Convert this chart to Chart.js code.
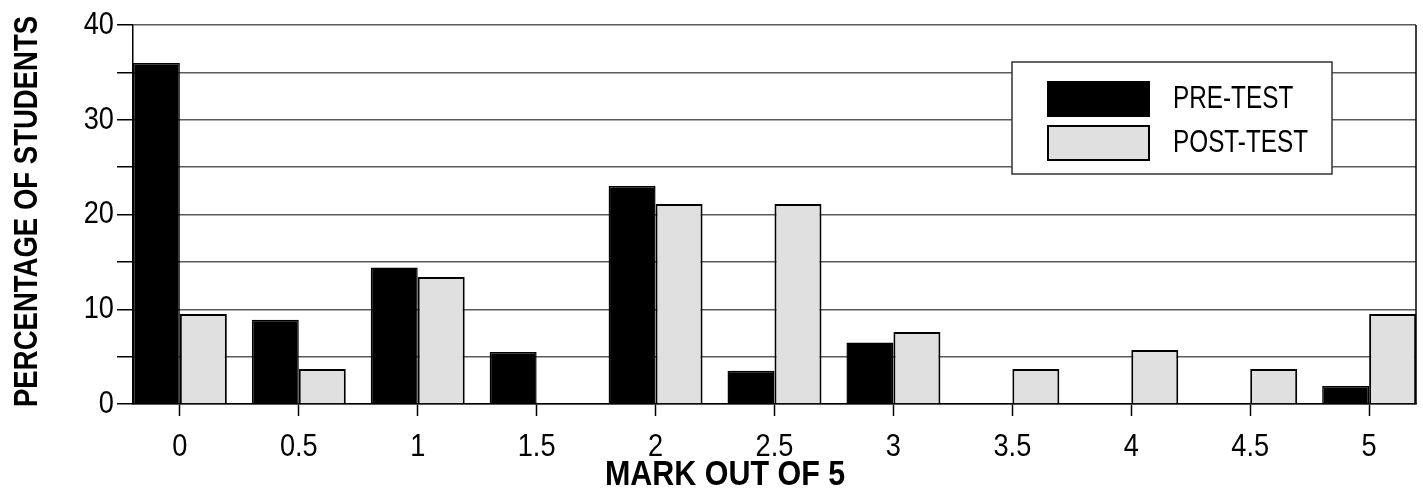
<!DOCTYPE html>
<html>
<head>
<meta charset="utf-8">
<script src="https://cdn.jsdelivr.net/npm/chart.js@4"></script>
<style>
  html, body { margin: 0; padding: 0; background: #ffffff; }
  #wrap { width: 1423px; height: 489px; position: relative; }
</style>
</head>
<body>
<div id="wrap"><canvas id="c" width="1423" height="489"></canvas></div>
<script>
// ---- data ----
const marks = [0, 0.5, 1, 1.5, 2, 2.5, 3, 3.5, 4, 4.5, 5];
const markLabels = ['0', '0.5', '1', '1.5', '2', '2.5', '3', '3.5', '4', '4.5', '5'];
const preTest  = [36, 8.9, 14.4, 5.5, 23.0, 3.5, 6.5, 0, 0, 0, 1.9];
const postTest = [9.5, 3.7, 13.4, 0, 21.1, 21.1, 7.6, 3.7, 5.7, 3.7, 9.5];
const yTickLabels = ['0', '10', '20', '30', '40'];
const seriesNames = ['PRE-TEST', 'POST-TEST'];
const xTitle = 'MARK OUT OF 5';
const yTitle = 'PERCENTAGE OF STUDENTS';

const FONT = "'Liberation Sans', Arial, Helvetica, sans-serif";

// horizontally condensed text (the original uses a condensed sans face)
const condense = {
  id: 'condense',
  beforeInit(chart) {
    const ctx = chart.ctx;
    const base = CanvasRenderingContext2D.prototype.fillText;
    ctx._k = 1;
    ctx.fillText = function (t, x, y, m) {
      if (this._k === 1) return m === undefined ? base.call(this, t, x, y) : base.call(this, t, x, y, m);
      this.save();
      this.translate(x, y);
      this.scale(this._k, 1);
      if (m === undefined) base.call(this, t, 0, 0); else base.call(this, t, 0, 0, m / this._k);
      this.restore();
    };
  },
  beforeDraw(chart) { chart.ctx._k = 0.85; },
  afterDraw(chart) { chart.ctx._k = 1; }
};

const legendPlugin = {
  id: 'boxLegend',
  afterDraw(chart) {
    const ctx = chart.ctx;
    ctx.save();
    // legend box
    const bx = 1012, by = 62, bw = 320, bh = 112;
    ctx.fillStyle = '#ffffff';
    ctx.fillRect(bx, by, bw, bh);
    ctx.strokeStyle = '#333333';
    ctx.lineWidth = 1.5;
    ctx.strokeRect(bx, by, bw, bh);
    const baselines = [108, 152];
    chart.data.datasets.forEach((ds, i) => {
      const sy = 82 + i * 44;
      ctx.fillStyle = ds.backgroundColor;
      ctx.fillRect(1048, sy, 101, 34);
      ctx.strokeStyle = '#000000';
      ctx.lineWidth = 2;
      ctx.strokeRect(1048, sy, 101, 34);
      ctx.fillStyle = '#000000';
      ctx.font = "32px " + FONT;
      ctx.textBaseline = 'alphabetic';
      ctx.textAlign = 'left';
      ctx._k = 0.76;
      ctx.fillText(ds.label, 1173, baselines[i]);
    });
    // x axis title
    ctx.font = "bold 35px " + FONT;
    ctx.textAlign = 'left';
    ctx.textBaseline = 'alphabetic';
    ctx.fillStyle = '#000000';
    ctx._k = 0.87;
    ctx.fillText(xTitle, 605, 485);
    // y axis title
    ctx.save();
    ctx.translate(37, 407);
    ctx.rotate(-Math.PI / 2);
    ctx.font = "bold 34px " + FONT;
    ctx._k = 0.81;
    ctx.fillText(yTitle, 0, 0);
    ctx.restore();
    ctx._k = 1;
    ctx.restore();
  }
};

const frameBorder = {
  id: 'frameBorder',
  afterDatasetsDraw(chart) {
    const a = chart.chartArea, ctx = chart.ctx;
    ctx.save();
    ctx.strokeStyle = '#000000';
    ctx.lineWidth = 1.5;
    ctx.beginPath();
    ctx.moveTo(a.right, a.top);
    ctx.lineTo(a.right, a.bottom);
    ctx.stroke();
    ctx.restore();
  }
};

new Chart(document.getElementById('c'), {
  type: 'bar',
  data: {
    datasets: [
      {
        label: seriesNames[0],
        data: marks.map((m, i) => ({ x: m, y: preTest[i] })),
        backgroundColor: '#000000',
        borderColor: '#000000',
        borderWidth: 1.5,
        barPercentage: 1.0,
        categoryPercentage: 0.79
      },
      {
        label: seriesNames[1],
        data: marks.map((m, i) => ({ x: m, y: postTest[i] })),
        backgroundColor: '#e0e0e0',
        borderColor: '#000000',
        borderWidth: 2,
        barPercentage: 1.0,
        categoryPercentage: 0.79
      }
    ]
  },
  options: {
    responsive: false,
    animation: false,
    devicePixelRatio: 1,
    layout: { padding: { left: 0, right: 7, top: 25, bottom: 0 } },
    plugins: {
      legend: { display: false },
      tooltip: { enabled: false },
      title: { display: false }
    },
    scales: {
      x: {
        type: 'linear',
        min: -0.197,
        max: 5.197,
        offset: false,
        afterBuildTicks(scale) {
          scale.ticks = marks.map(v => ({ value: v }));
        },
        afterFit(scale) { scale.height = 85; },
        ticks: {
          autoSkip: false,
          maxRotation: 0,
          padding: 12,
          color: '#000000',
          font: { family: FONT, size: 32 },
          callback: (v) => {
            const i = marks.indexOf(v);
            return i >= 0 ? markLabels[i] : '';
          }
        },
        grid: {
          offset: false,
          drawOnChartArea: false,
          drawTicks: true,
          tickLength: 12,
          tickColor: '#000000',
          tickWidth: 1.5
        },
        border: { display: true, color: '#000000', width: 1.5 }
      },
      y: {
        min: 0,
        max: 40,
        afterFit(scale) { scale.width = 133; },
        ticks: {
          stepSize: 5,
          padding: 3,
          color: '#000000',
          font: { family: FONT, size: 32 },
          callback: (v) => {
            const s = String(v);
            return yTickLabels.includes(s) ? s : '';
          }
        },
        grid: {
          color: '#5a5a5a',
          lineWidth: 1.5,
          drawTicks: true,
          tickLength: 16,
          tickColor: '#000000',
          tickWidth: 1.5
        },
        border: { display: true, color: '#000000', width: 1.5 },
        title: { display: false }
      }
    }
  },
  plugins: [condense, frameBorder, legendPlugin]
});
</script>
</body>
</html>
